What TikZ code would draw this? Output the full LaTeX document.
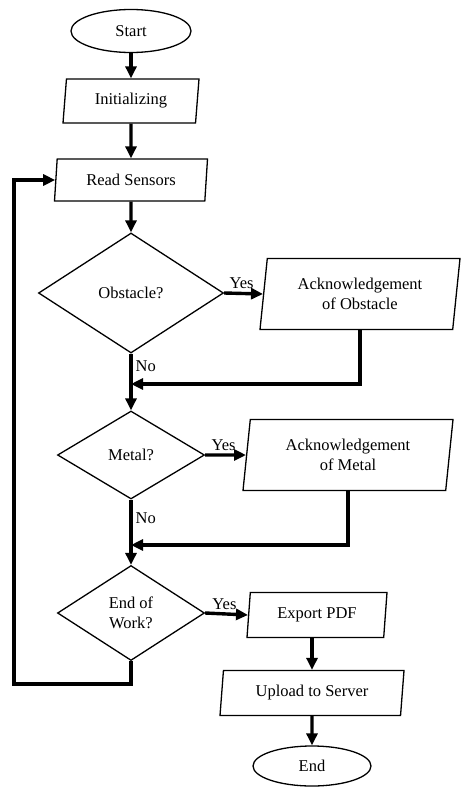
\documentclass[tikz,border=0pt]{standalone}
\usepackage{fontspec}
\setmainfont{Liberation Serif}
\usetikzlibrary{shapes.geometric,arrows.meta}
\begin{document}
\begin{tikzpicture}[x=1pt,y=-1pt]
	\tikzstyle{every node}=[font=\fontsize{16.5}{20}\selectfont]
	\tikzstyle{terminal}=[draw,ellipse,line width=1.3pt,inner sep=0pt]
	\tikzstyle{io}=[draw,trapezium,trapezium left angle=77,trapezium right angle=103,trapezium stretches body,line width=1.3pt,inner sep=0pt,align=center]
	\tikzstyle{decision}=[draw,diamond,line width=1.3pt,inner sep=0pt,align=center]
	\tikzstyle{flow}=[line width=3.4pt,-{Triangle[length=12pt,width=11pt]}]
	\tikzstyle{plain}=[line width=3.4pt]
	\tikzstyle{answer}=[inner sep=3pt]
	\useasboundingbox (0,0) rectangle (461,787);
	\node[terminal,minimum width=120pt,minimum height=43pt] (start) at (131,31) {Start};
	\node[io,minimum width=136pt,minimum height=44pt] (init) at (131,101) {Initializing};
	\node[io,minimum width=153pt,minimum height=42pt] (read) at (131,180) {Read Sensors};
	\node[decision,minimum width=185pt,minimum height=120pt] (obs) at (131,293) {Obstacle?};
	\node[io,minimum width=200pt,minimum height=71pt] (ack1) at (360,294) {Acknowledgement\\of Obstacle};
	\node[decision,minimum width=147pt,minimum height=88pt] (metal) at (131,455) {Metal?};
	\node[io,minimum width=210pt,minimum height=71pt] (ack2) at (348,455) {Acknowledgement\\of Metal};
	\node[decision,minimum width=147pt,minimum height=95pt] (endw) at (131,613) {End of\\Work?};
	\node[io,minimum width=140pt,minimum height=45pt] (export) at (317,615) {Export PDF};
	\node[io,minimum width=184pt,minimum height=45pt] (upload) at (312,693) {Upload to Server};
	\node[terminal,minimum width=118pt,minimum height=40pt] (end) at (312,766) {End};
	\coordinate (j1) at (131,384);
	\coordinate (j2) at (131,545);
	\coordinate (lp) at (14,684);
	\draw[flow] (start) -- (init);
	\draw[flow] (init) -- (read);
	\draw[flow] (read) -- (obs);
	\draw[flow] (obs.east) -- node[answer,above,pos=0.45] (yes1) {Yes} (ack1.west);
	\draw[plain] (obs.south) -- node[answer,right,pos=0.4] (no1) {No} (j1);
	\draw[flow] (ack1.south) |- (j1);
	\draw[flow] (j1) -- (metal.north);
	\draw[flow] (metal.east) -- node[answer,above,pos=0.45] (yes2) {Yes} (ack2.west);
	\draw[plain] (metal.south) -- node[answer,right,pos=0.4] (no2) {No} (j2);
	\draw[flow] (ack2.south) |- (j2);
	\draw[flow] (j2) -- (endw.north);
	\draw[flow] (endw.east) -- node[answer,above,pos=0.45] (yes3) {Yes} (export.west);
	\draw[flow] (export.south -| upload.north) -- (upload.north);
	\draw[flow] (upload) -- (end);
	\draw[flow] (endw.south) |- (lp) |- (read.west);
\end{tikzpicture}
\end{document}
